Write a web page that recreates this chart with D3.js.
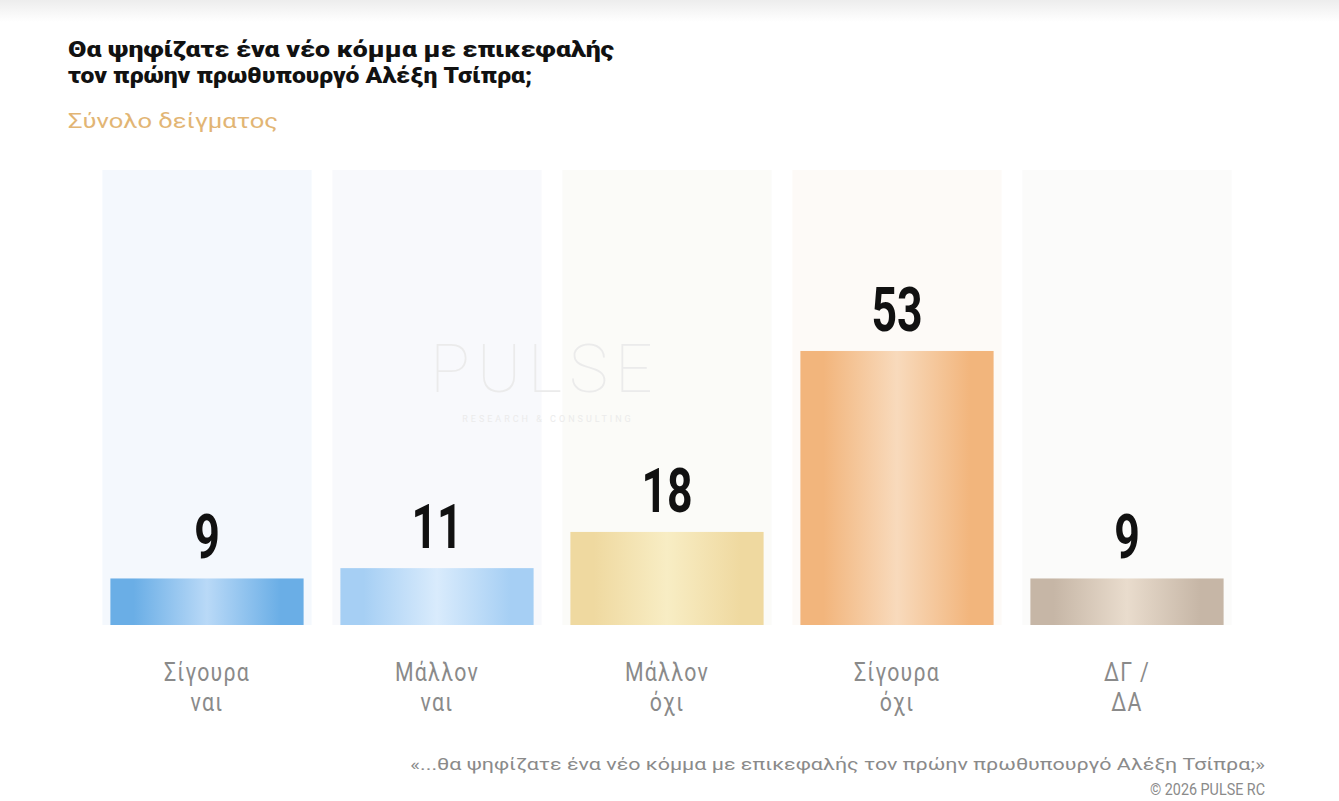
<!DOCTYPE html>
<html>
<head>
<meta charset="utf-8">
<script src="https://cdn.jsdelivr.net/npm/d3@7"></script>
<style>
  html, body { margin: 0; padding: 0; background: #fff; }
  svg { display: block; }
</style>
</head>
<body>
<div id="chart"></div>
<script>
// data
const categories = [["Σίγουρα", "ναι"], ["Μάλλον", "ναι"], ["Μάλλον", "όχι"], ["Σίγουρα", "όχι"], ["ΔΓ /", "ΔΑ"]];
const values = [9, 11, 18, 53, 9];
const titleLines = ["Θα ψηφίζατε ένα νέο κόμμα με επικεφαλής", "τον πρώην πρωθυπουργό Αλέξη Τσίπρα;"];
const subtitle = "Σύνολο δείγματος";
const footnote = "«...θα ψηφίζατε ένα νέο κόμμα με επικεφαλής τον πρώην πρωθυπουργό Αλέξη Τσίπρα;»";
const credit = "© 2026  PULSE RC";

// colours per bar: [edge, centre, column background]
const barColors = [
  ["#6aaee6", "#b9d9f7", "#f4f8fd"],
  ["#a6cff4", "#d9ebfc", "#f8f9fc"],
  ["#efd9a0", "#f8edc4", "#fbfbf8"],
  ["#f2b57c", "#f8dabc", "#fdfaf7"],
  ["#c6b6a6", "#e9dccd", "#fbfbfa"]
];

const width = 1339, height = 801;
const svg = d3.select("#chart").append("svg")
  .attr("width", width).attr("height", height)
  .style("font-family", "Roboto, 'Noto Sans', sans-serif");

const defs = svg.append("defs");

// faint shadow on top edge
const topGrad = defs.append("linearGradient").attr("id", "topShade")
  .attr("x1", 0).attr("y1", 0).attr("x2", 0).attr("y2", 1);
topGrad.append("stop").attr("offset", 0).attr("stop-color", "#ededed");
topGrad.append("stop").attr("offset", 1).attr("stop-color", "#ffffff");
svg.append("rect").attr("width", width).attr("height", 22).attr("fill", "url(#topShade)");

barColors.forEach(function(c, i) {
  const g = defs.append("linearGradient").attr("id", "barGrad" + i)
    .attr("x1", 0).attr("y1", 0).attr("x2", 1).attr("y2", 0);
  g.append("stop").attr("offset", 0).attr("stop-color", c[0]);
  g.append("stop").attr("offset", 0.12).attr("stop-color", c[0]);
  g.append("stop").attr("offset", 0.5).attr("stop-color", c[1]);
  g.append("stop").attr("offset", 0.88).attr("stop-color", c[0]);
  g.append("stop").attr("offset", 1).attr("stop-color", c[0]);
});

// scales
const x = d3.scaleBand()
  .domain(d3.range(values.length))
  .range([92, 1242])
  .paddingInner(0.16)
  .paddingOuter(0.08);

const y = d3.scaleLinear().domain([0, 88]).range([625, 170]);

// background columns
svg.append("g").selectAll("rect")
  .data(values)
  .join("rect")
  .attr("x", (d, i) => x(i) - 8)
  .attr("width", x.bandwidth() + 16)
  .attr("y", y(88))
  .attr("height", y(0) - y(88))
  .attr("fill", (d, i) => barColors[i][2]);

// watermark
const wm = svg.append("g").attr("fill", "#ebebeb");
wm.append("text")
  .attr("x", 545).attr("y", 392)
  .attr("text-anchor", "middle")
  .attr("font-size", 66).attr("font-weight", 100)
  .attr("letter-spacing", 7)
  .text("PULSE");
wm.append("text")
  .attr("x", 548).attr("y", 422)
  .attr("text-anchor", "middle")
  .attr("font-size", 9).attr("letter-spacing", 3)
  .text("RESEARCH & CONSULTING");

// bars
svg.append("g").selectAll("rect")
  .data(values)
  .join("rect")
  .attr("x", (d, i) => x(i))
  .attr("width", x.bandwidth())
  .attr("y", d => y(d))
  .attr("height", d => y(0) - y(d))
  .attr("fill", (d, i) => "url(#barGrad" + i + ")");

// value labels
svg.append("g").selectAll("text")
  .data(values)
  .join("text")
  .attr("transform", (d, i) => `translate(${x(i) + x.bandwidth() / 2},${y(d) - 20}) scale(0.72,1)`)
  .attr("text-anchor", "middle")
  .attr("font-size", 62)
  .attr("font-weight", 700)
  .attr("fill", "#111")
  .text(d => d);

// category labels
const cat = svg.append("g").selectAll("g")
  .data(categories)
  .join("g")
  .attr("transform", (d, i) => `translate(${x(i) + x.bandwidth() / 2},0)`);
cat.selectAll("text")
  .data(d => d)
  .join("text")
  .attr("transform", (d, j) => `translate(0,${681 + j * 30}) scale(0.82,1)`)
  .attr("text-anchor", "middle")
  .attr("font-size", 26)
  .attr("letter-spacing", 1.5)
  .attr("fill", "#8a8a8a")
  .text(d => d);

// title
svg.append("g").selectAll("text")
  .data(titleLines)
  .join("text")
  .attr("x", 68)
  .attr("y", (d, i) => 57 + i * 26)
  .attr("font-size", 22)
  .attr("font-weight", 900)
  .attr("fill", "#111")
  .attr("textLength", (d, i) => i === 0 ? 546 : 464)
  .attr("lengthAdjust", "spacingAndGlyphs")
  .text(d => d);

svg.append("text")
  .attr("x", 68).attr("y", 128)
  .attr("font-size", 21)
  .attr("fill", "#e2b574")
  .attr("textLength", 210)
  .attr("lengthAdjust", "spacingAndGlyphs")
  .text(subtitle);

// footnote
svg.append("text")
  .attr("x", 1265).attr("y", 770)
  .attr("text-anchor", "end")
  .attr("font-size", 17)
  .attr("fill", "#8a8a8a")
  .attr("textLength", 855)
  .attr("lengthAdjust", "spacingAndGlyphs")
  .text(footnote);

svg.append("text")
  .attr("x", 1265).attr("y", 795)
  .attr("text-anchor", "end")
  .attr("font-size", 17)
  .attr("fill", "#8a8a8a")
  .attr("textLength", 115)
  .attr("lengthAdjust", "spacingAndGlyphs")
  .text(credit);
</script>
</body>
</html>
